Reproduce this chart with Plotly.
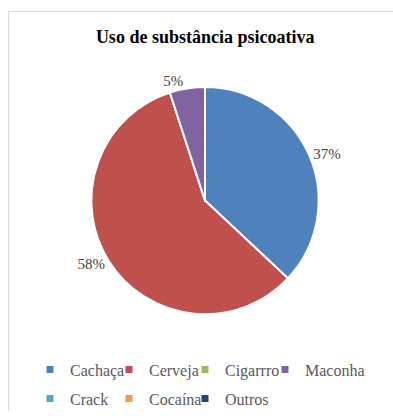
import plotly.graph_objects as go

title = "Uso de substância psicoativa"
categories = ["Cachaça", "Cerveja", "Cigarrro", "Maconha", "Crack", "Cocaína", "Outros"]
values = [37, 58, 0, 5, 0, 0, 0]
colors = ["#4F81BD", "#C0504D", "#9BBB59", "#8064A2", "#4BACC6", "#F79646", "#1F497D"]
# legend layout: column index of each category (Excel-style 4-column grid)
legend_cols = [0, 1, 2, 3, 0, 1, 2]

W, H = 393, 416
cx, cy, r = 205, 203, 115
FONT = "Liberation Serif"

labels_text = [f"{v}%" if v > 0 else "" for v in values]

fig = go.Figure()
fig.add_trace(go.Pie(
    labels=categories, values=values, sort=False, direction="clockwise", rotation=0,
    marker=dict(colors=colors, line=dict(color="white", width=2)),
    text=labels_text, textinfo="text", textposition="outside",
    outsidetextfont=dict(family=FONT, size=15, color="#404040"),
    showlegend=False, hoverinfo="label+percent",
    domain=dict(x=[(cx - r) / W, (cx + r) / W], y=[1 - (cy + r) / H, 1 - (cy - r) / H]),
))

legend_names = ["legend", "legend2", "legend3", "legend4"]
for c, col, lc in zip(categories, colors, legend_cols):
    fig.add_trace(go.Scatter(
        x=[None], y=[None], mode="markers", name=c,
        marker=dict(symbol="square", size=7, color=col),
        legend=legend_names[lc], legendgroup=c,
    ))

col_x = [30, 109, 185, 265]
legend_common = dict(
    orientation="v", xanchor="left", yanchor="top", y=1 - 357 / H,
    font=dict(family=FONT, size=16, color="#595959"),
    bgcolor="rgba(0,0,0,0)", tracegroupgap=5,
)

fig.update_layout(
    width=W, height=H, margin=dict(l=0, r=0, t=0, b=0),
    paper_bgcolor="white", plot_bgcolor="white",
    title=dict(text=f"<b>{title}</b>", x=0.522, xanchor="center", y=1 - 37 / H, yanchor="middle",
               font=dict(family=FONT, size=18, color="black")),
    xaxis=dict(visible=False), yaxis=dict(visible=False),
    shapes=[
        dict(type="line", xref="paper", yref="paper", x0=8.5 / W, x1=8.5 / W, y0=0, y1=1 - 11.5 / H,
             line=dict(color="#D9D9D9", width=1)),
        dict(type="line", xref="paper", yref="paper", x0=8.5 / W, x1=1, y0=1 - 11.5 / H, y1=1 - 11.5 / H,
             line=dict(color="#D9D9D9", width=1)),
    ],
)
for name, x in zip(legend_names, col_x):
    fig.update_layout({name: dict(x=x / W, **legend_common)})

fig.write_html("out.html")
